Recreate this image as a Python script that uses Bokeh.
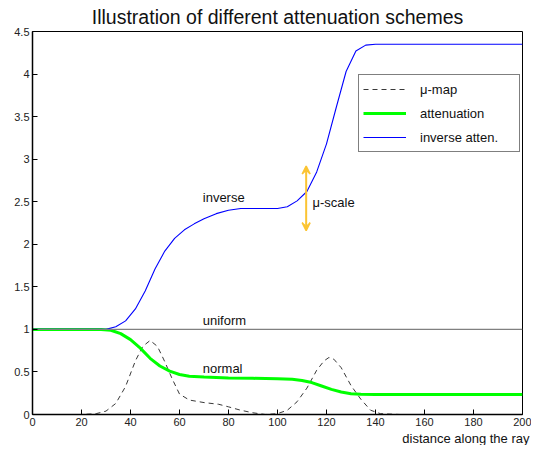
from bokeh.plotting import figure
from bokeh.models import (FixedTicker, Legend, LegendItem, Label, Arrow, VeeHead,
                          ColumnDataSource, Range1d, Title)
from bokeh.embed import file_html
from bokeh.resources import INLINE

# ---- data ----
title_text = "Illustration of different attenuation schemes"
x_label_text = "distance along the ray"

mu_x = [0, 20, 26, 30, 34, 38, 42, 45, 48, 51, 54, 57, 60, 64, 70, 76, 80, 85, 90, 95,
        100, 104, 108, 112, 116, 119, 121, 123, 126, 130, 134, 138, 142, 150, 200]
mu_y = [0, 0, 0.01, 0.04, 0.13, 0.33, 0.63, 0.80, 0.87, 0.80, 0.62, 0.42, 0.24, 0.17,
        0.14, 0.12, 0.09, 0.05, 0.02, 0.0, 0.01, 0.05, 0.15, 0.31, 0.52, 0.63, 0.67,
        0.65, 0.55, 0.34, 0.18, 0.05, 0.01, 0, 0]

att_x = [0, 28, 32, 36, 40, 44, 48, 52, 56, 60, 64, 70, 80, 90, 100, 106, 110, 114,
         118, 122, 126, 130, 134, 140, 200]
att_y = [1, 1, 0.99, 0.95, 0.88, 0.78, 0.66, 0.57, 0.51, 0.47, 0.45, 0.44, 0.43, 0.425,
         0.42, 0.415, 0.40, 0.375, 0.335, 0.295, 0.265, 0.245, 0.237, 0.235, 0.235]

inv_x = [0, 25, 30, 34, 38, 42, 46, 50, 54, 58, 62, 66, 70, 75, 80, 85, 90, 95, 100,
         104, 108, 112, 116, 120, 124, 128, 132, 136, 140, 150, 200]
inv_y = [1, 1, 1.0, 1.03, 1.10, 1.24, 1.45, 1.71, 1.92, 2.07, 2.17, 2.24, 2.30, 2.36,
         2.40, 2.42, 2.42, 2.42, 2.42, 2.44, 2.51, 2.62, 2.85, 3.18, 3.61, 4.03, 4.27,
         4.34, 4.35, 4.35, 4.35]

uniform_x = [0, 200]
uniform_y = [1, 1]

x_ticks = [0, 20, 40, 60, 80, 100, 120, 140, 160, 180, 200]
x_tick_labels = ["0", "20", "40", "60", "80", "100", "120", "140", "160", "180", "200"]
y_ticks = [0, 0.5, 1, 1.5, 2, 2.5, 3, 3.5, 4, 4.5]
y_tick_labels = ["0", "0.5", "1", "1.5", "2", "2.5", "3", "3.5", "4", "4.5"]

legend_labels = ["\u03bc-map", "attenuation", "inverse atten."]

# annotation positions (data units)
arrow_x = 111.7
arrow_y0 = 2.16
arrow_y1 = 2.92

FONT = "Liberation Sans"

p = figure(width=531, height=445, output_backend="svg", toolbar_location=None,
           x_range=Range1d(0, 200), y_range=Range1d(0, 4.5),
           min_border_left=32, min_border_right=9, min_border_top=31,
           min_border_bottom=30)

p.background_fill_color = "white"
p.border_fill_color = "white"
p.outline_line_color = "black"
p.outline_line_width = 1
p.grid.visible = False

p.title.text = title_text
p.title.text_font = FONT
p.title.text_font_size = "19.5px"
p.title.text_font_style = "normal"
p.title.text_color = "#111111"
p.title.align = "center"
p.title.standoff = 7

# x-axis label, right aligned under the axis
p.add_layout(Title(text=x_label_text, align="right", text_font=FONT,
                   text_font_size="13px", text_font_style="normal",
                   text_color="#111111", standoff=0, offset=-7), "below")

for ax in (p.xaxis[0], p.yaxis[0]):
    ax.major_tick_in = 5
    ax.major_tick_out = 0
    ax.minor_tick_line_color = None
    ax.axis_line_width = 1.5
    ax.axis_line_color = "black"
    ax.major_tick_line_color = "black"
    ax.major_label_text_font = FONT
    ax.major_label_text_font_size = "11px"
    ax.major_label_text_color = "#222222"

p.xaxis[0].ticker = FixedTicker(ticks=x_ticks)
p.xaxis[0].major_label_overrides = {t: l for t, l in zip(x_ticks, x_tick_labels)}
p.xaxis[0].major_label_standoff = 3
p.yaxis[0].ticker = FixedTicker(ticks=y_ticks)
p.yaxis[0].major_label_overrides = {t: l for t, l in zip(y_ticks, y_tick_labels)}
p.yaxis[0].major_label_standoff = 3

mu_src = ColumnDataSource(dict(x=mu_x, y=mu_y))
att_src = ColumnDataSource(dict(x=att_x, y=att_y))
inv_src = ColumnDataSource(dict(x=inv_x, y=inv_y))
uni_src = ColumnDataSource(dict(x=uniform_x, y=uniform_y))

r_mu = p.line("x", "y", source=mu_src, line_color="#222222", line_width=0.9,
              line_dash="5 4")
r_att = p.line("x", "y", source=att_src, line_color="#00ff00", line_width=3)
r_inv = p.line("x", "y", source=inv_src, line_color="#0000ff", line_width=1.1)
r_uni = p.line("x", "y", source=uni_src, line_color="#808080", line_width=1.3)

legend = Legend(items=[LegendItem(label=legend_labels[0], renderers=[r_mu]),
                       LegendItem(label=legend_labels[1], renderers=[r_att]),
                       LegendItem(label=legend_labels[2], renderers=[r_inv])],
                location=(326, 262), margin=0, padding=4, spacing=4,
                glyph_width=43, glyph_height=20, label_height=20,
                label_standoff=14, label_width=95,
                label_text_font=FONT, label_text_font_size="13px",
                label_text_color="#111111",
                border_line_color="black", border_line_width=1.3,
                background_fill_color="white", background_fill_alpha=1)
p.add_layout(legend)

def add_label(x, y, text, align="left", baseline="middle"):
    p.add_layout(Label(x=x, y=y, text=text, text_font=FONT, text_font_size="13px",
                       text_color="#111111", text_baseline=baseline,
                       text_align=align))

add_label(69.5, 2.55, "inverse")
add_label(69.5, 1.10, "uniform")
add_label(69.5, 0.535, "normal")
add_label(114.3, 2.49, "\u03bc-scale")

gold = "#fbc433"
p.add_layout(Arrow(x_start=arrow_x, y_start=arrow_y0, x_end=arrow_x, y_end=arrow_y1,
                   line_color=gold, line_width=2,
                   start=VeeHead(size=8, line_color=gold, fill_color=gold, line_width=1.5),
                   end=VeeHead(size=8, line_color=gold, fill_color=gold, line_width=1.5)))

open("out.html", "w").write(file_html(p, INLINE))
